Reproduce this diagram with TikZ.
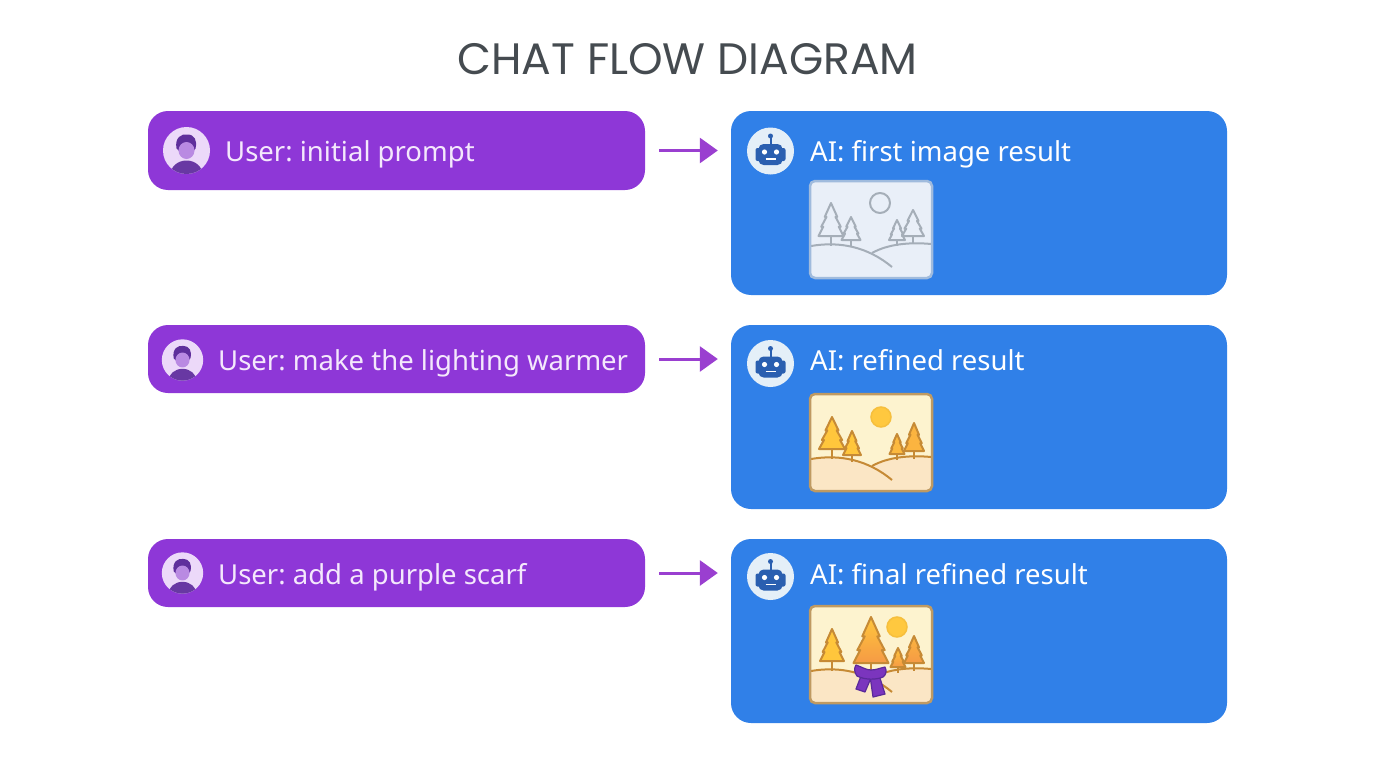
\documentclass[tikz,border=0pt]{standalone}
\usepackage{fontspec}
\setmainfont{Noto Sans}
\newfontfamily\titlefont{Poppins}
\usetikzlibrary{arrows.meta}
\frenchspacing

\definecolor{userpurple}{HTML}{8E37D7}
\definecolor{aiblue}{HTML}{3080E8}
\definecolor{usertext}{HTML}{F4E8FC}
\definecolor{titlegray}{HTML}{454B50}
\definecolor{arrowpurple}{HTML}{9A3FD0}
\definecolor{botblue}{HTML}{2A5FB0}
\definecolor{botface}{HTML}{E4EFF8}
\definecolor{avatarbg}{HTML}{ECD9F9}
\definecolor{avatarface}{HTML}{B98AE2}
\definecolor{avatardark}{HTML}{5F2F9C}
\definecolor{palelinecol}{HTML}{A5AEB8}
\definecolor{paleframe}{HTML}{A0BBDD}
\definecolor{palebg}{HTML}{E9EFF8}
\definecolor{warmlinecol}{HTML}{C68A35}
\definecolor{warmframe}{HTML}{BF9A62}
\definecolor{warmbg}{HTML}{FDF3CF}
\definecolor{warmground}{HTML}{FBE3C2}
\definecolor{sunyellow}{HTML}{FFC83F}
\definecolor{pineyellow}{HTML}{FFC63C}
\definecolor{pineorange}{HTML}{F59A45}
\definecolor{scarfpurple}{HTML}{7B35BE}
\definecolor{scarfline}{HTML}{5A2A9A}

\tikzset{
  userbox/.style={fill=userpurple, rounded corners=20pt, minimum width=497pt, inner sep=0pt},
  aibox/.style={fill=aiblue, rounded corners=20pt, minimum width=496pt, minimum height=184pt, inner sep=0pt},
  usertxt/.style={anchor=base west, inner sep=0pt, text=usertext, font=\fontsize{27.5}{34}\selectfont},
  aitxt/.style={anchor=base west, inner sep=0pt, text=white, font=\fontsize{27.5}{34}\selectfont},
  flowarrow/.style={draw=arrowpurple, line width=3pt, shorten <=14pt, shorten >=13pt,
    -{Triangle[length=18pt,width=25pt]}},
  paleline/.style={draw=palelinecol, line width=2pt, line join=round},
  warmline/.style={draw=warmlinecol, line width=2pt, line join=round}
}

% Avatar: #1,#2 centre, #3 radius factor
\newcommand{\usericon}[3]{
  \begin{scope}[shift={(#1,#2)},scale=#3]
    \fill[avatarbg] (0,0) circle (23.5);
    \begin{scope}
      \clip (0,0) circle (23.5);
      \fill[avatardark!90!avatarface] (0,24) ellipse (16 and 14);
    \end{scope}
    \fill[avatardark] (-10,-2) .. controls (-12,-13) and (-5,-17) .. (1,-16)
      .. controls (8,-16) and (11,-10) .. (9,-2) -- (5,3) -- (-5,3) -- cycle;
    \fill[avatarface] (0,0) ellipse (8 and 8.5);
  \end{scope}
}

% Robot head: #1,#2 centre
\newcommand{\boticon}[2]{
  \begin{scope}[shift={(#1,#2)}]
    \fill[botface] (0,0) circle (23.5);
    \fill[botblue, rounded corners=2pt] (-15,-3) rectangle (15,10);
    \fill[botblue, rounded corners=5pt] (-12,-7) rectangle (12,14);
    \draw[botblue, line width=2pt] (0,-7) -- (0,-14);
    \fill[botblue] (0,-15) circle (2.5);
    \fill[white] (-6,1) circle (2.6);
    \fill[white] (6,1) circle (2.6);
    \draw[white, line width=1.6pt] (-5,8) -- (5,8);
  \end{scope}
}

% Pine tree: #1,#2 top, #3 half width, #4 height, #5 style
\newcommand{\pine}[5]{
  \begin{scope}[shift={(#1,#2)},xscale=#3,yscale=#4]
    \draw[#5] (0,1) -- (0,1.3);
    \draw[#5] (0,0) -- (.5,.42) -- (.36,.42) -- (.78,.72) -- (.62,.72) -- (1,1)
      -- (-1,1) -- (-.62,.72) -- (-.78,.72) -- (-.36,.42) -- (-.5,.42) -- cycle;
  \end{scope}
}

% Picture frame
\newcommand{\framefill}[1]{\fill[#1, rounded corners=5pt] (0,0) rectangle (122,97);}
\newcommand{\frameline}[1]{\draw[#1, line width=2.5pt, rounded corners=5pt] (0,0) rectangle (122,97);}
\newcommand{\ground}[1]{
  \begin{scope}
    \clip[rounded corners=5pt] (0,0) rectangle (122,97);
    \fill[#1] (0,65) .. controls (20,61) and (45,63) .. (62,72)
      .. controls (80,63) and (100,61) .. (122,63) -- (122,97) -- (0,97) -- cycle;
  \end{scope}
}
\newcommand{\hills}[1]{
  \draw[#1] (1,65) .. controls (30,60) and (58,66) .. (82,86);
  \draw[#1] (62,72) .. controls (78,63) and (100,61) .. (121,63);
}

\begin{document}
\begin{tikzpicture}[x=1pt,y=-1pt]
  \useasboundingbox (0,0) rectangle (1376,768);

  % Title
  \node[text=titlegray, font=\titlefont\fontsize{44}{52}\selectfont] (title) at (687.5,59) {CHAT FLOW DIAGRAM};

  % User bubbles
  \node[userbox, minimum height=79pt] (user1) at (396.5,150.5) {};
  \node[userbox, minimum height=68pt] (user2) at (396.5,359) {};
  \node[userbox, minimum height=68pt] (user3) at (396.5,573) {};

  % AI bubbles
  \node[aibox] (ai1) at (979,203) {};
  \node[aibox] (ai2) at (979,417) {};
  \node[aibox] (ai3) at (979,631) {};

  % Arrows
  \draw[flowarrow] (user1.east) -- (user1.east -| ai1.west);
  \draw[flowarrow] (user2.east) -- (user2.east -| ai2.west);
  \draw[flowarrow] (user3.east) -- (user3.east -| ai3.west);

  % Texts
  \node[usertxt] (usertext1) at (225,161.5) {User: initial prompt};
  \node[usertxt] (usertext2) at (218,370.5) {User: make the lighting warmer};
  \node[usertxt] (usertext3) at (218,584) {User: add a purple scarf};
  \node[aitxt] (aitext1) at (810,161.5) {AI: first image result};
  \node[aitxt] (aitext2) at (810,370.5) {AI: refined result};
  \node[aitxt] (aitext3) at (810,584) {AI: final refined result};

  % Icons
  \usericon{186.5}{150.5}{1}
  \usericon{182.5}{360}{.88}
  \usericon{182.5}{573}{.88}
  \boticon{770.5}{151}
  \boticon{770.5}{363.5}
  \boticon{770.5}{576.5}

  % First image
  \begin{scope}[shift={(810,181)}]
    \framefill{palebg}
    \draw[paleline] (70,22) circle (10);
    \pine{21}{22}{12.5}{33}{paleline}
    \pine{41}{36}{9.5}{23}{paleline}
    \pine{87}{39}{8}{20}{paleline}
    \pine{103}{29}{11}{26}{paleline}
    \hills{paleline}
    \frameline{paleframe}
  \end{scope}

  % Second image
  \begin{scope}[shift={(810,394)}]
    \framefill{warmbg}
    \ground{warmground!80!warmbg}
    \draw[fill=sunyellow, draw=sunyellow!85!warmlinecol, line width=1.5pt] (71,23) circle (10);
    \pine{22}{23}{13}{32}{warmline, fill=pineyellow}
    \pine{42}{37}{9}{24}{warmline, fill=pineyellow}
    \pine{87}{40}{7.5}{20}{warmline, fill=pineyellow!70!pineorange}
    \pine{104}{29}{10}{28}{warmline, fill=pineyellow!60!pineorange}
    \hills{warmline}
    \frameline{warmframe}
  \end{scope}

  % Final image with scarf
  \begin{scope}[shift={(810,606)}]
    \framefill{warmbg}
    \ground{warmground!80!warmbg}
    \draw[fill=sunyellow, draw=sunyellow!85!warmlinecol, line width=1.5pt] (87,21) circle (10);
    \pine{22}{23}{12}{32}{warmline, fill=pineyellow}
    \pine{61}{11}{17.5}{46}{warmline, top color=pineyellow, bottom color=pineorange}
    \pine{88}{42}{7.5}{19}{warmline, top color=pineyellow, bottom color=pineorange}
    \pine{104}{30}{10}{27}{warmline, top color=pineyellow!60!pineorange, bottom color=pineorange}
    \hills{warmline}
    % Scarf
    \draw[scarfline, fill=scarfpurple, line width=1.2pt, line join=round]
      (51,70) -- (46,83) -- (55,86) -- (61,72) -- cycle;
    \draw[scarfline, fill=scarfpurple, line width=1.2pt, line join=round]
      (60,70) -- (63,91) -- (75,88) -- (69,69) -- cycle;
    \draw[scarfline, fill=scarfpurple, line width=1.2pt, line join=round]
      (46,59) .. controls (52,61) and (56,64) .. (61,64)
      .. controls (66,64) and (70,62) .. (75,61)
      .. controls (77,65) and (76,69) .. (73,71)
      .. controls (66,74) and (55,74) .. (47,70)
      .. controls (44,66) and (44,62) .. (46,59) -- cycle;
    \frameline{warmframe}
  \end{scope}
\end{tikzpicture}
\end{document}
